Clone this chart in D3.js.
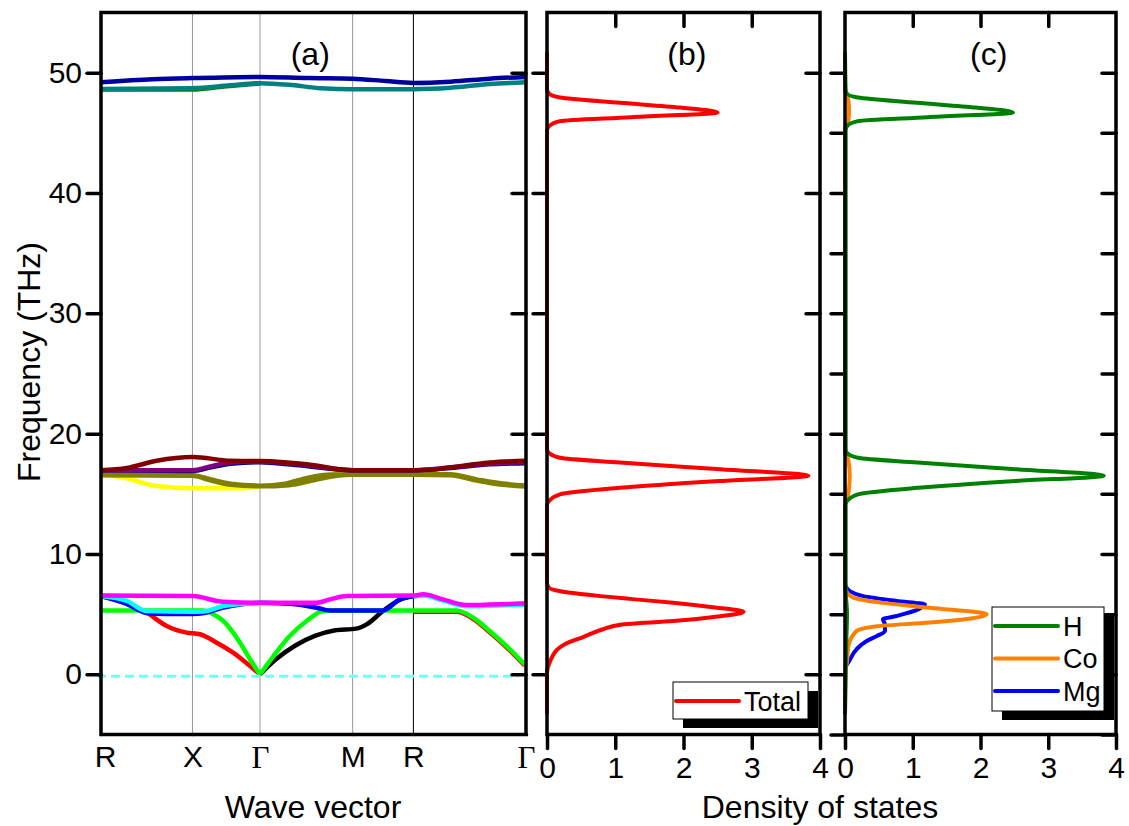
<!DOCTYPE html>
<html><head><meta charset="utf-8">
<script src="https://cdn.jsdelivr.net/npm/d3@7"></script>
<style>
html,body{margin:0;padding:0;background:#fff;}
svg{display:block;font-family:"Liberation Sans",Arial,sans-serif;}
</style></head>
<body><svg id="c" width="1129" height="826"></svg>
<script>
// ---------------- DATA ----------------
const kLabels = ["R","X","Γ","M","R","Γ"];
const kTicks = [0, 0.706, 1.227, 1.942, 2.411, 3.28];
const freqTicks = [0,10,20,30,40,50];
const freqTicksFine = [-5,0,5,10,15,20,25,30,35,40,45,50];
const dosTicks = [0,1,2,3,4];
const panelLabels = ["(a)","(b)","(c)"];

// phonon bands: arrays of pieces, each piece = [k, frequency(THz)]
const bandYellow = [[[0,16.6],[0.17,16.35],[0.43,15.65],[0.706,15.46],[1.07,15.46],[1.227,15.6]]];
const bandOlive2 = [[[0,16.55],[0.706,16.5],[0.85,16.1],[1.0,15.75],[1.227,15.62],[1.45,15.72],[1.65,16.15],[1.82,16.5],[1.942,16.58],[2.411,16.58],[2.693,16.55],[2.9,16.1],[3.1,15.75],[3.28,15.6]]];
const bandOlive1 = [[[0,16.62],[0.706,16.55],[0.85,16.2],[1.0,15.85],[1.227,15.68],[1.42,15.85],[1.6,16.35],[1.78,16.6],[1.942,16.62],[2.411,16.62],[2.693,16.62],[2.9,16.2],[3.1,15.85],[3.28,15.7]]];
const bandNavy17 = [[[0,16.96],[0.706,16.9],[0.85,17.2],[1.0,17.5],[1.227,17.62],[1.5,17.4],[1.942,16.96],[2.411,16.96],[2.7,17.15],[3.0,17.45],[3.28,17.55]]];
const bandPurple = [[[0,16.96],[0.706,16.96],[0.85,17.3],[1.0,17.6],[1.227,17.68],[1.5,17.5],[1.942,16.96],[2.411,16.96],[2.7,17.2],[3.0,17.5],[3.28,17.62]]];
const bandDarkRed = [[[0,16.96],[0.2,17.15],[0.43,17.75],[0.706,18.06],[1.0,17.75],[1.227,17.72],[1.587,17.45],[1.942,16.96],[2.411,16.96],[2.55,17.0],[2.7,17.2],[3.0,17.6],[3.28,17.75]]];
const bandGreen48 = [[[0,48.6],[0.706,48.6],[0.95,48.85],[1.227,49.1]]];
const bandTeal48 = [[[0,48.65],[0.706,48.7],[1.0,48.95],[1.227,49.13],[1.45,49.0],[1.7,48.7],[1.942,48.63],[2.411,48.63],[2.7,48.75],[3.0,49.05],[3.28,49.2]]];
const bandBlue49 = [[[0,49.2],[0.4,49.45],[0.706,49.55],[1.227,49.65],[1.6,49.55],[1.942,49.5],[2.2,49.3],[2.411,49.15],[2.7,49.25],[3.0,49.5],[3.28,49.65]]];
const bandRed = [
  [[0,6.5],[0.2,5.9],[0.352,5.13],[0.507,4.02],[0.661,3.47],[0.764,3.33],[0.893,2.63],[1.02,1.8],[1.15,0.69],[1.227,0]],
  [[2.411,5.2],[2.745,5.2],[2.873,4.6],[3.0,3.5],[3.13,2.25],[3.27,0.73]]
];
const bandBlack = [[[1.227,0],[1.35,1.25],[1.5,2.4],[1.65,3.2],[1.8,3.65],[1.97,3.8],[2.05,4.15],[2.176,5.26],[2.307,6.2],[2.411,6.5]]];
const bandGreen = [
  [[0,5.3],[0.787,5.3],[0.867,5.0],[0.944,4.43],[1.073,2.63],[1.15,1.25],[1.227,0]],
  [[1.227,0],[1.33,1.5],[1.458,3.2],[1.587,4.43],[1.715,5.26],[1.8,5.3],[2.745,5.3],[2.873,4.7],[3.0,3.6],[3.13,2.35],[3.27,0.83]]
];
const bandBlue = [
  [[0,6.5],[0.198,5.85],[0.352,5.1],[0.5,5.02],[0.706,5.02],[0.787,5.08],[0.944,5.55],[1.1,5.85],[1.227,5.95]],
  [[1.227,5.95],[1.458,5.87],[1.664,5.54],[1.767,5.3],[2.176,5.3],[2.307,6.23],[2.411,6.5]]
];
const bandCyan = [
  [[0,6.5],[0.198,6.1],[0.352,5.26],[0.706,5.2],[0.787,5.22],[0.944,5.68],[1.1,5.87],[1.227,5.95]],
  [[2.411,6.45],[2.487,6.55],[2.64,6.12],[2.82,5.66],[3.0,5.7],[3.28,5.8]]
];
const bandMagenta = [[[0,6.55],[0.706,6.5],[0.944,6.03],[1.227,5.95],[1.664,5.95],[1.767,6.23],[1.9,6.5],[2.411,6.55],[2.487,6.65],[2.64,6.23],[2.82,5.76],[3.0,5.8],[3.28,5.9]]];
const bandDashed = [[[-0.03,-0.15],[3.22,-0.15]]];

// density of states: [frequency, DOS]
const dosTotal = [[-3.3,0],[0,0.0],[0.5,0.01],[1.0,0.04],[1.5,0.08],[2.0,0.14],[2.5,0.26],[3.1,0.53],[3.75,0.82],[4.15,1.1],[4.43,1.85],[4.8,2.5],[5.2,2.88],[5.6,2.4],[5.95,1.85],[6.25,1.25],[6.5,0.78],[6.9,0.2],[7.2,0.03],[7.6,0],[14.1,0],[14.4,0.03],[14.96,0.19],[15.5,1.07],[16.07,2.54],[16.5,3.83],[17.05,2.54],[17.6,1.07],[18.0,0.19],[18.4,0.03],[18.7,0],[45.2,0],[45.55,0.03],[45.97,0.19],[46.3,1.23],[46.7,2.5],[47.1,1.95],[47.5,1.07],[47.94,0.19],[48.25,0.03],[48.6,0],[51.7,0]];
const dosH = [[-3.3,0],[0,0.01],[3,0.02],[5,0.03],[7,0.01],[14.1,0.01],[14.4,0.03],[14.96,0.19],[15.5,1.07],[16.07,2.52],[16.5,3.82],[17.05,2.52],[17.6,1.07],[18.0,0.19],[18.4,0.03],[18.7,0.01],[45.2,0.01],[45.55,0.03],[45.97,0.19],[46.3,1.22],[46.7,2.48],[47.1,1.93],[47.5,1.06],[47.94,0.19],[48.25,0.03],[48.6,0.01],[51.7,0]];
const dosCo = [[-3.3,0],[0.5,0.01],[0.7,0.02],[2.35,0.05],[3.6,0.17],[4.0,0.47],[4.3,1.25],[4.99,2.09],[5.54,1.25],[5.96,0.52],[6.37,0.12],[6.8,0.03],[7.2,0],[14.3,0],[15.0,0.05],[16.5,0.07],[17.8,0.05],[18.4,0],[45.3,0],[46.0,0.05],[47.0,0.06],[48.0,0.04],[48.5,0],[51.7,0]];
const dosMg = [[0.6,0],[1.0,0.05],[2.08,0.17],[2.77,0.32],[3.18,0.47],[3.6,0.59],[4.15,0.59],[4.57,0.56],[4.85,0.76],[5.4,1.08],[5.82,1.18],[6.1,0.76],[6.5,0.27],[6.92,0.07],[7.34,0.01],[7.6,0]];
const legendB = ["Total"];
const legendC = ["H","Co","Mg"];

// ---------------- DRAWING ----------------
const svg = d3.select("#c");
const yTop = 12.5, yBot = 734.5;
const y = d3.scaleLinear().domain([-5,55]).range([yBot, yTop]);
const xa = d3.scaleLinear().domain([0,3.28]).range([101,526]);
const xb = d3.scaleLinear().domain([0,4]).range([547,820]);
const xc = d3.scaleLinear().domain([0,4]).range([845,1116]);

const axisW = 3.5, tickLen = 14;
function styleAxis(g, fontSize){
  g.select(".domain").remove();
  g.selectAll(".tick line").attr("stroke","#000").attr("stroke-width",axisW).attr("stroke-linecap","round");
  g.selectAll(".tick text").attr("fill","#000").attr("font-size",fontSize).attr("font-family",'"Liberation Sans",Arial,sans-serif');
}

// --- Panel (a) ---
const gA = svg.append("g");
kTicks.slice(1,5).forEach((k,i)=>{
  gA.append("line").attr("x1",xa(k)).attr("x2",xa(k)).attr("y1",yTop).attr("y2",yBot)
    .attr("stroke", i===3 ? "#000" : "#9a9a9a").attr("stroke-width",1);
});
const lineA = d3.line().x(d=>xa(d[0])).y(d=>y(d[1])).curve(d3.curveMonotoneX);
const bandStyles = [
  [bandYellow,"#ffff00"],[bandOlive2,"#808000"],[bandOlive1,"#808000"],
  [bandNavy17,"#000080"],[bandPurple,"#800080"],[bandDarkRed,"#800000"],
  [bandGreen48,"#008000"],[bandTeal48,"#008080"],[bandBlue49,"#0000a0"],
  [bandRed,"#ff0000"],[bandBlack,"#000000"],[bandGreen,"#00ff00"],
  [bandBlue,"#0000ff"],[bandCyan,"#00ffff"],[bandMagenta,"#ff00ff"]
];
bandStyles.forEach(([pieces,col])=>{
  pieces.forEach(p=>{
    gA.append("path").attr("d",lineA(p)).attr("fill","none").attr("stroke",col)
      .attr("stroke-width",4.5).attr("stroke-linejoin","round");
  });
});
bandDashed.forEach(p=>{
  gA.append("path").attr("d",d3.line().x(d=>xa(d[0])).y(d=>y(d[1]))(p)).attr("fill","none")
    .attr("stroke","#70ffff").attr("stroke-width",3).attr("stroke-dasharray","9,5");
});
// axes
const aL = gA.append("g").attr("transform",`translate(${xa(0)},0)`)
  .call(d3.axisLeft(y).tickValues(freqTicks).tickSize(tickLen).tickPadding(5).tickFormat(d3.format("d")));
styleAxis(aL,30);
const aR = gA.append("g").attr("transform",`translate(${xa(3.28)},0)`)
  .call(d3.axisLeft(y).tickValues(freqTicks).tickSize(tickLen).tickFormat(""));
styleAxis(aR,30);
const aB = gA.append("g").attr("transform",`translate(0,${yBot})`)
  .call(d3.axisBottom(xa).tickValues(kTicks).tickSize(0).tickPadding(11).tickFormat((d,i)=>kLabels[i]));
styleAxis(aB,30);
aB.selectAll(".tick text").filter((d,i)=>kLabels[i]==="Γ")
  .attr("font-family",'"Liberation Serif","Times New Roman",serif').attr("font-size",31);
aB.selectAll(".tick text").filter((d,i)=>i===0).attr("dx",4);
gA.append("rect").attr("x",xa(0)).attr("y",yTop).attr("width",xa(3.28)-xa(0)).attr("height",yBot-yTop)
  .attr("fill","none").attr("stroke","#000").attr("stroke-width",axisW);

// --- DOS panels ---
function dosPanel(x, fine){
  const g = svg.append("g");
  const tv = fine ? freqTicksFine : freqTicks;
  const l = g.append("g").attr("transform",`translate(${x.range()[0]},0)`)
    .call(d3.axisLeft(y).tickValues(tv).tickSize(tickLen).tickFormat(""));
  styleAxis(l,30);
  const r = g.append("g").attr("transform",`translate(${x.range()[1]},0)`)
    .call(d3.axisLeft(y).tickValues(tv).tickSize(tickLen).tickFormat(""));
  styleAxis(r,30);
  const t = g.append("g").attr("transform",`translate(0,${yTop})`)
    .call(d3.axisBottom(x).tickValues([1,2,3]).tickSize(tickLen).tickFormat(""));
  styleAxis(t,30);
  const b = g.append("g").attr("transform",`translate(0,${yBot})`)
    .call(d3.axisBottom(x).tickValues(dosTicks).tickSize(tickLen).tickPadding(8).tickFormat(d3.format("d")));
  styleAxis(b,30);
  return g;
}
const gB = dosPanel(xb,false);
const gC = dosPanel(xc,true);
const lineB = d3.line().x(d=>xb(d[1])).y(d=>y(d[0])).curve(d3.curveMonotoneY);
const lineC = d3.line().x(d=>xc(d[1])).y(d=>y(d[0])).curve(d3.curveMonotoneY);
gB.append("path").attr("d",lineB(dosTotal)).attr("fill","none").attr("stroke","#ff0000").attr("stroke-width",4);
gC.append("path").attr("d",lineC(dosMg)).attr("fill","none").attr("stroke","#0000ff").attr("stroke-width",4);
gC.append("path").attr("d",lineC(dosCo)).attr("fill","none").attr("stroke","#ff8000").attr("stroke-width",4);
gC.append("path").attr("d",lineC(dosH)).attr("fill","none").attr("stroke","#008000").attr("stroke-width",4);
[[gB,xb],[gC,xc]].forEach(([g,x])=>{
  g.append("rect").attr("x",x.range()[0]).attr("y",yTop).attr("width",x.range()[1]-x.range()[0]).attr("height",yBot-yTop)
    .attr("fill","none").attr("stroke","#000").attr("stroke-width",axisW);
});

// legends
function legend(g, x0, y0, w, h, items, colors){
  g.append("rect").attr("x",x0+10).attr("y",y0+9).attr("width",w).attr("height",h).attr("fill","#000");
  g.append("rect").attr("x",x0).attr("y",y0).attr("width",w).attr("height",h).attr("fill","#fff").attr("stroke","#000").attr("stroke-width",1);
  items.forEach((name,i)=>{
    const yy = y0 + 19 + i*32.5;
    g.append("line").attr("x1",x0+3).attr("x2",x0+66).attr("y1",yy).attr("y2",yy)
      .attr("stroke",colors[i]).attr("stroke-width",4).attr("stroke-linecap","round");
    g.append("text").attr("x",x0+71).attr("y",yy).attr("dy","0.36em").attr("font-size",27).text(name);
  });
}
legend(gB, 673, 682, 135, 37, legendB, ["#ff0000"]);
legend(gC, 992, 607, 112, 104, legendC, ["#008000","#ff8000","#0000ff"]);

// panel labels
[[xa,1.615],[xb,2.05],[xc,2.12]].forEach(([x,v],i)=>{
  svg.append("text").attr("x",x(v)).attr("y",65).attr("text-anchor","middle").attr("font-size",32).text(panelLabels[i]);
});
// axis titles
svg.append("text").attr("transform","translate(40,362) rotate(-90)").attr("text-anchor","middle")
  .attr("font-size",32).text("Frequency (THz)");
svg.append("text").attr("x",313).attr("y",818).attr("text-anchor","middle").attr("font-size",32).text("Wave vector");
svg.append("text").attr("x",820).attr("y",818).attr("text-anchor","middle").attr("font-size",32).text("Density of states");
</script></body></html>
